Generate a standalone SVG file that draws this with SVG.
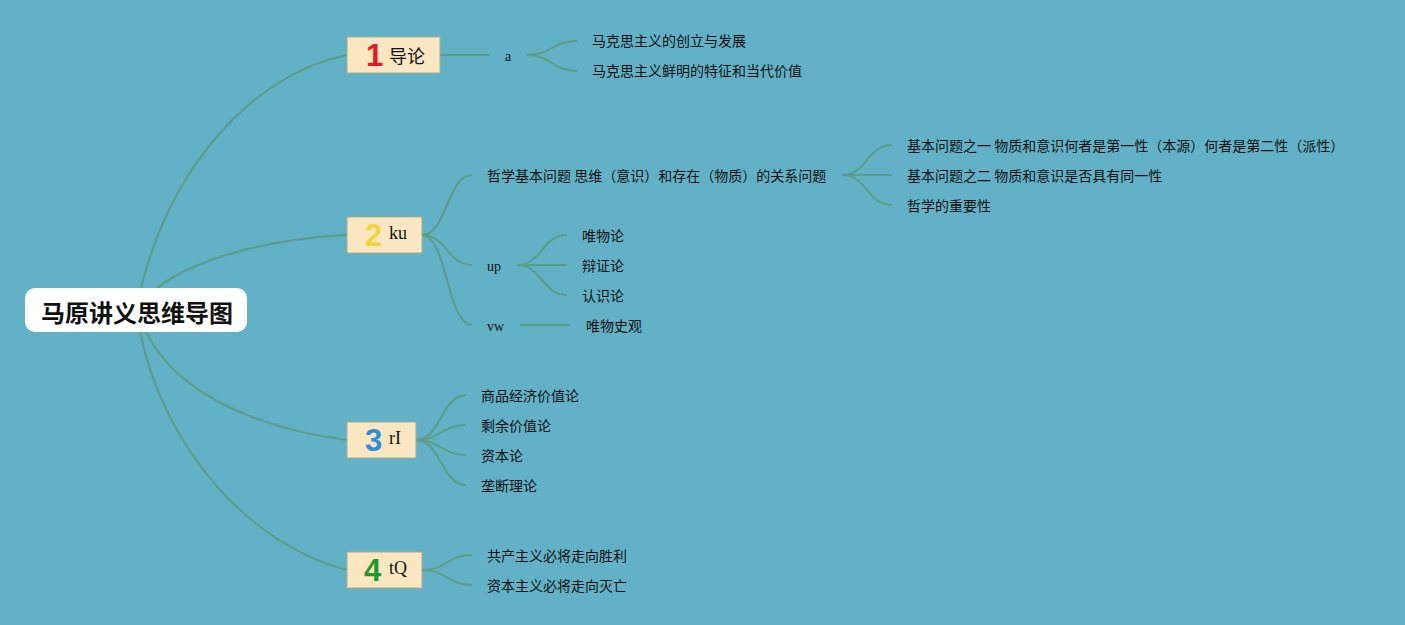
<svg xmlns="http://www.w3.org/2000/svg" width="1405" height="625" viewBox="0 0 1405 625">
<style>
.bg{fill:#62b1c7}
.ln{fill:none;stroke:#5b9e86;stroke-width:2}
.box{fill:#fbe6c2;stroke:#a8ae86;stroke-width:1}
.t{font-family:"Noto Sans CJK SC","Noto Sans",sans-serif;font-size:14px;fill:#111;dominant-baseline:central}
.s{font-family:"Liberation Serif","DejaVu Serif",serif;font-size:14px;fill:#111;dominant-baseline:central}
.lbl{font-family:"Noto Sans CJK SC","Noto Sans",sans-serif;font-size:18px;fill:#111;dominant-baseline:central}
.lbls{font-family:"Liberation Serif","DejaVu Serif",serif;font-size:18px;fill:#111;dominant-baseline:central}
.num{font-family:"Liberation Sans","Open Sans",sans-serif;font-size:31px;font-weight:bold;dominant-baseline:central}
</style>
<rect class="bg" x="0" y="0" width="1405" height="625"/>
<g id="connectors">
<path class="ln" d="M141,288 C170,170 250,75 347,55"/>
<path class="ln" d="M157,288 C200,255 280,238 347,235"/>
<path class="ln" d="M146,332 C180,400 270,430 347,440"/>
<path class="ln" d="M140,332 C165,450 250,545 347,570"/>
<path class="ln" d="M440,55 L490,55"/>
<path class="ln" d="M527,55 C552,55 552,41 577,41"/>
<path class="ln" d="M527,55 C552,55 552,71 577,71"/>
<path class="ln" d="M422,235 C447,235 447,175 472,175"/>
<path class="ln" d="M422,235 C447,235 447,265 472,265"/>
<path class="ln" d="M422,235 C447,235 447,325 472,325"/>
<path class="ln" d="M842,175 C867,175 867,145 892,145"/>
<path class="ln" d="M842,175 L892,175"/>
<path class="ln" d="M842,175 C867,175 867,205 892,205"/>
<path class="ln" d="M517,265 C542,265 542,235 567,235"/>
<path class="ln" d="M517,265 L567,265"/>
<path class="ln" d="M517,265 C542,265 542,295 567,295"/>
<path class="ln" d="M520,325 L570,325"/>
<path class="ln" d="M416,440 C441,440 441,395 466,395"/>
<path class="ln" d="M416,440 C441,440 441,425 466,425"/>
<path class="ln" d="M416,440 C441,440 441,455 466,455"/>
<path class="ln" d="M416,440 C441,440 441,485 466,485"/>
<path class="ln" d="M422,570 C447,570 447,555 472,555"/>
<path class="ln" d="M422,570 C447,570 447,585 472,585"/>
</g>
<g id="root">
<rect x="25" y="288" width="222" height="44" rx="10" fill="#fff"/>
<text x="137" y="311" text-anchor="middle" style="font-family:'Noto Sans CJK SC',sans-serif;font-size:24px;font-weight:bold;fill:#111;dominant-baseline:central">马原讲义思维导图</text>
</g>
<g id="n1">
<rect class="box" x="347" y="37" width="93" height="36"/>
<text class="num" x="366" y="55" fill="#e0182a">1</text>
<text class="lbl" x="389" y="55">导论</text>
</g>
<g id="n2">
<rect class="box" x="347" y="217" width="75" height="36"/>
<text class="num" x="365" y="235" fill="#f2d53c">2</text>
<text class="lbls" x="389" y="233">ku</text>
</g>
<g id="n3">
<rect class="box" x="347" y="422" width="69" height="36"/>
<text class="num" x="365" y="440" fill="#2b8ed6">3</text>
<text class="lbls" x="389" y="438">rI</text>
</g>
<g id="n4">
<rect class="box" x="347" y="552" width="75" height="36"/>
<text class="num" x="364" y="570" fill="#22992a">4</text>
<text class="lbls" x="389" y="568">tQ</text>
</g>
<g id="n1a"><text class="s" x="505" y="56">a</text></g>
<g id="n1a1"><text class="t" x="592" y="40">马克思主义的创立与发展</text></g>
<g id="n1a2"><text class="t" x="592" y="70">马克思主义鲜明的特征和当代价值</text></g>
<g id="n2a"><text class="t" x="487" y="175">哲学基本问题 思维（意识）和存在（物质）的关系问题</text></g>
<g id="n2a1"><text class="t" x="907" y="145">基本问题之一 物质和意识何者是第一性（本源）何者是第二性（派性）</text></g>
<g id="n2a2"><text class="t" x="907" y="175">基本问题之二 物质和意识是否具有同一性</text></g>
<g id="n2a3"><text class="t" x="907" y="205">哲学的重要性</text></g>
<g id="n2b"><text class="s" x="487" y="266">up</text></g>
<g id="n2b1"><text class="t" x="582" y="235">唯物论</text></g>
<g id="n2b2"><text class="t" x="582" y="265">辩证论</text></g>
<g id="n2b3"><text class="t" x="582" y="295">认识论</text></g>
<g id="n2c"><text class="s" x="487" y="326">vw</text></g>
<g id="n2c1"><text class="t" x="586" y="325">唯物史观</text></g>
<g id="n3a"><text class="t" x="481" y="395">商品经济价值论</text></g>
<g id="n3b"><text class="t" x="481" y="425">剩余价值论</text></g>
<g id="n3c"><text class="t" x="481" y="455">资本论</text></g>
<g id="n3d"><text class="t" x="481" y="485">垄断理论</text></g>
<g id="n4a"><text class="t" x="487" y="555">共产主义必将走向胜利</text></g>
<g id="n4b"><text class="t" x="487" y="585">资本主义必将走向灭亡</text></g>
</svg>
